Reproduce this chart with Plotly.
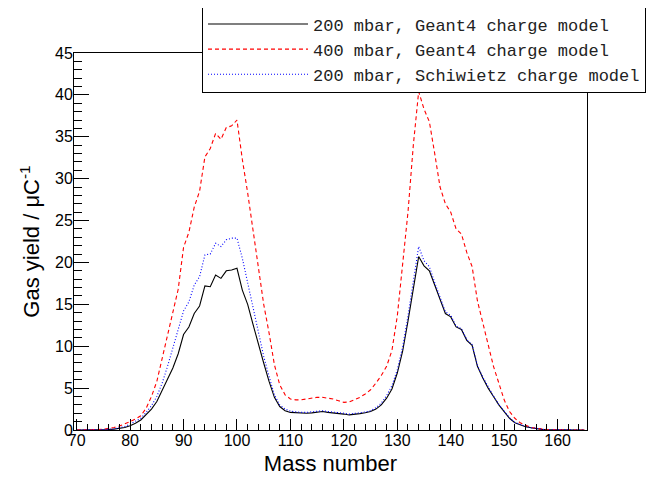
import plotly.graph_objects as go

# Mass number bins (bin centres)
mass = list(range(70, 166))

# 200 mbar, Geant4 charge model
g4_200 = [0, 0, 0, 0.01, 0.02, 0.04, 0.06, 0.1, 0.18, 0.3,
          0.5, 0.8, 1.2, 1.8, 2.5, 3.4, 4.8, 6.0, 7.4, 9.1,
          11.4, 12.3, 13.9, 14.8, 17.2, 17.1, 18.5, 18.1, 19.0, 19.1,
          19.3, 16.7, 15.0, 12.6, 10.2, 8.0, 5.8, 3.9, 2.8, 2.3,
          2.1, 2.05, 2.0, 2.0, 2.05, 2.15, 2.2, 2.1, 2.05, 2.0,
          1.9, 1.8, 1.85, 1.95, 2.05, 2.2, 2.5, 3.0, 3.8, 4.9,
          6.8, 9.4, 13.0, 16.8, 20.7, 19.6, 19.0, 17.3, 15.6, 13.9,
          13.5, 12.3, 12.0, 10.7, 10.1, 7.6, 6.2, 5.0, 4.0, 3.0,
          2.2, 1.4, 0.87, 0.6, 0.4, 0.27, 0.16, 0.08, 0.04, 0.02,
          0.01, 0, 0, 0, 0, 0]

# 400 mbar, Geant4 charge model
g4_400 = [0, 0, 0.01, 0.03, 0.06, 0.1, 0.18, 0.3, 0.48, 0.72,
          1.0, 1.3, 1.7, 2.6, 4.0, 5.8, 8.5, 11.3, 13.8, 16.8,
          21.8, 23.6, 26.6, 28.5, 32.6, 33.6, 35.4, 34.7, 36.1, 36.3,
          37.0, 32.3, 28.3, 23.8, 18.9, 15.0, 11.6, 7.8, 5.4, 4.2,
          3.7, 3.6, 3.6, 3.7, 3.8, 3.9, 3.9, 3.8, 3.7, 3.5,
          3.3, 3.35, 3.6, 3.9, 4.3, 4.8, 5.6, 6.5, 7.6, 9.5,
          13.6, 19.6, 26.0, 34.0, 40.4, 38.3, 36.8, 33.0, 29.0, 27.0,
          26.0, 24.0, 23.4, 21.2, 19.5, 15.4, 12.6, 10.2, 7.6, 5.5,
          3.6, 2.2, 1.4, 0.85, 0.55, 0.32, 0.2, 0.1, 0.05, 0.02,
          0.01, 0, 0, 0, 0, 0]

# 200 mbar, Schiwietz charge model
sch_200 = [0, 0, 0, 0.01, 0.03, 0.05, 0.08, 0.14, 0.25, 0.42,
           0.7, 1.0, 1.4, 2.1, 2.9, 4.0, 5.6, 7.6, 9.8, 11.9,
           14.2, 15.3, 17.3, 18.3, 20.9, 21.0, 22.3, 21.9, 22.7, 22.9,
           22.9, 20.5, 17.5, 14.5, 11.5, 8.8, 6.4, 4.2, 3.0, 2.5,
           2.25, 2.15, 2.1, 2.1, 2.15, 2.25, 2.3, 2.2, 2.15, 2.1,
           2.0, 1.9, 1.95, 2.05, 2.15, 2.3, 2.65, 3.2, 4.1, 5.3,
           7.2, 9.9, 13.6, 17.5, 21.9, 20.2, 19.5, 17.6, 15.8, 14.1,
           13.7, 12.4, 12.1, 10.8, 10.2, 7.7, 6.3, 5.1, 4.05, 3.05,
           2.25, 1.45, 0.9, 0.62, 0.42, 0.28, 0.17, 0.09, 0.04, 0.02,
           0.01, 0, 0, 0, 0, 0]

fig = go.Figure()
fig.add_trace(go.Scatter(x=mass, y=g4_200, mode="lines",
                         name="200 mbar, Geant4 charge model",
                         line=dict(color="black", width=1.1)))
fig.add_trace(go.Scatter(x=mass, y=g4_400, mode="lines",
                         name="400 mbar, Geant4 charge model",
                         line=dict(color="#ff0000", width=1.1, dash="4px,3px")))
fig.add_trace(go.Scatter(x=mass, y=sch_200, mode="lines",
                         name="200 mbar, Schiwietz charge model",
                         line=dict(color="#0000ff", width=1.1, dash="1px,2px")))

axis_common = dict(showline=True, linecolor="black", linewidth=1, mirror=True,
                   showgrid=False, zeroline=False, ticks="inside",
                   tickcolor="black", tickwidth=1, automargin=False,
                   tickfont=dict(family="Liberation Sans", size=16, color="black"))

fig.update_xaxes(range=[69.5, 165.5], dtick=10, tick0=70, ticklen=11,
                 ticklabelstandoff=-4,
                 minor=dict(dtick=2, tick0=70, ticks="inside", ticklen=6, tickcolor="black"),
                 title=dict(text="Mass number", font=dict(family="Liberation Sans", size=22, color="black"),
                            standoff=7),
                 **axis_common)
fig.update_yaxes(range=[0, 45], dtick=5, tick0=0, ticklen=15,
                 ticklabelstandoff=-3,
                 minor=dict(dtick=1, tick0=0, ticks="inside", ticklen=8, tickcolor="black"),
                 title=dict(text="Gas yield / μC<sup>-1</sup>",
                            font=dict(family="Liberation Sans", size=22, color="black"),
                            standoff=9),
                 **axis_common)

# page has an 8px body margin, so the figure is a bit smaller than the window
fig.update_layout(
    width=646, height=469,
    margin=dict(l=66, r=67, t=45, b=47, autoexpand=False),
    paper_bgcolor="white", plot_bgcolor="white",
    font=dict(family="Liberation Sans", color="black"),
    legend=dict(x=0.2495, y=1.126, xanchor="left", yanchor="top",
                bgcolor="white", bordercolor="black", borderwidth=1,
                font=dict(family="Liberation Mono", size=17, color="#222222"),
                itemwidth=100),
)

fig.write_html("out.html")
